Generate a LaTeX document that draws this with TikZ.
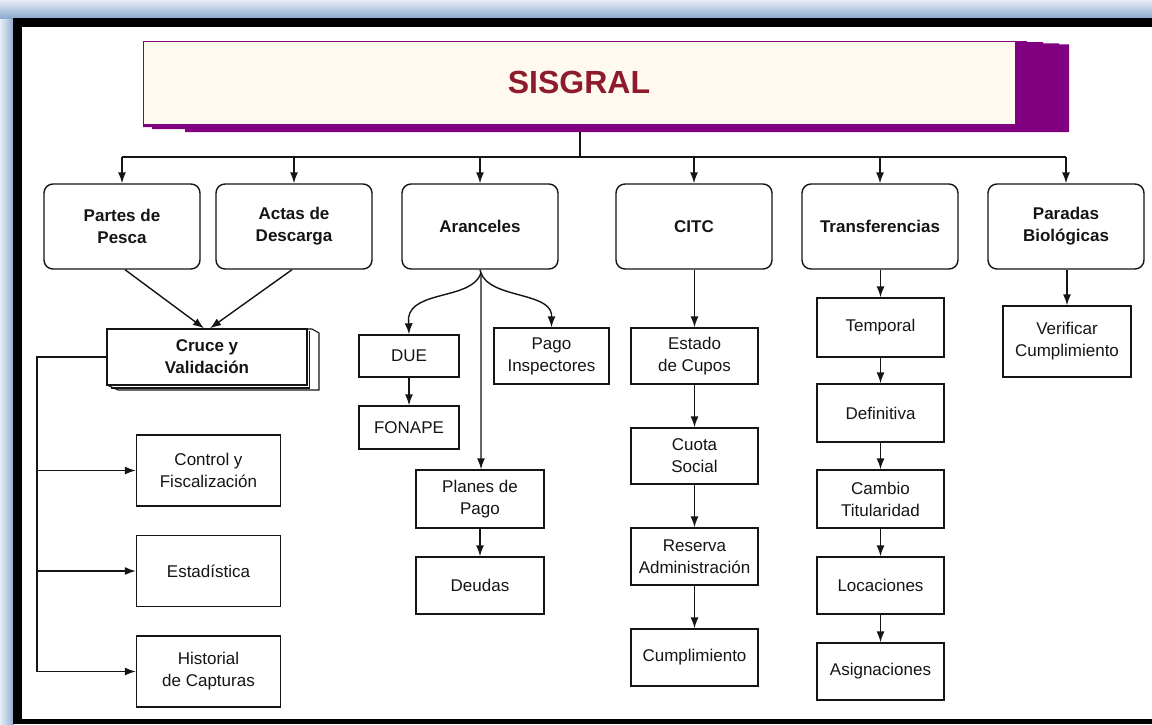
\documentclass[tikz,border=0pt]{standalone}
\usepackage{fontspec}
\setmainfont{Liberation Sans}
\usetikzlibrary{arrows.meta,calc}
\definecolor{purp}{HTML}{800080}
\definecolor{cream}{HTML}{FFF9EF}
\definecolor{titlered}{HTML}{8E1B2B}
\definecolor{frameblue}{HTML}{8DAAD0}
\definecolor{framepale}{HTML}{E8EEF6}
\definecolor{ink}{HTML}{151515}
\begin{document}
\begin{tikzpicture}[x=1pt,y=-1pt,line width=1.4pt,
  topbox/.style={draw=ink, rounded corners=9pt, minimum width=156pt, minimum height=85pt, align=center, inner sep=0pt, font=\fontsize{17}{22}\selectfont\bfseries, text=ink},
  subbox/.style={draw=ink, align=center, inner sep=0pt, font=\fontsize{17}{22}\selectfont, text=ink},
  arr/.style={draw=ink, -{Latex[length=11pt,width=8pt]}},
  conn/.style={draw=ink}]
\useasboundingbox (0,0) rectangle (1152,724);
% frame
\shade[left color=framepale, right color=frameblue] (0,0) rectangle (14,724);
\shade[top color=framepale, bottom color=frameblue] (0,0) rectangle (1152,18);
\fill[black] (13,18) rectangle (1152,724);
\fill[white] (21.5,26.5) rectangle (1152,719);
% title
\fill[purp] (1015,41) -- (1027,41) -- (1027,42) -- (1043,42) -- (1043,43.3) -- (1059,43.3) -- (1059,44.3) -- (1069,44.3) -- (1069,132) -- (185,132) -- (185,129) -- (152,129) -- (152,127) -- (143,127) -- (143,41) -- cycle;
\node[draw=purp, fill=cream, line width=1pt, minimum width=872pt, minimum height=83pt, inner sep=0pt, font=\fontsize{32}{36}\selectfont\bfseries, text=titlered] (title) at (579,82.5) {SISGRAL};
% top row
\node[topbox] (partes) at (122,226.5) {Partes de\\Pesca};
\node[topbox] (actas) at (294,226.5) {Actas de\\Descarga};
\node[topbox] (aranc) at (480,226.5) {Aranceles};
\node[topbox] (citc) at (694,226.5) {CITC};
\node[topbox] (transf) at (880,226.5) {Transferencias};
\node[topbox] (paradas) at (1066,226.5) {Paradas\\Biológicas};
% cruce
\draw[ink, line width=1.1pt] (307,329) -- (312,329) -- (319,333) -- (319,390) -- (118,390) -- (107,385);
\draw[ink, line width=1.1pt] (309.5,331) -- (309.5,388) -- (111,388);
\node[subbox, font=\fontsize{17}{22}\selectfont\bfseries, minimum width=200pt, minimum height=56pt, fill=white] (cruce) at (207,357) {Cruce y\\Validación};
% left column
\node[subbox, minimum width=144pt, minimum height=71pt] (control) at (208.5,470.5) {Control y\\Fiscalización};
\node[subbox, minimum width=144pt, minimum height=71pt] (estad) at (208.5,571) {Estadística};
\node[subbox, minimum width=144pt, minimum height=71pt] (hist) at (208.5,671.5) {Historial\\de Capturas};
% aranceles column
\node[subbox, minimum width=100pt, minimum height=42pt] (due) at (409,356) {DUE};
\node[subbox, minimum width=100pt, minimum height=43pt] (fonape) at (409,427.5) {FONAPE};
\node[subbox, minimum width=115pt, minimum height=56pt] (pago) at (551.5,356) {Pago\\Inspectores};
\node[subbox, minimum width=128pt, minimum height=58pt] (planes) at (480,499) {Planes de\\Pago};
\node[subbox, minimum width=128pt, minimum height=57pt] (deudas) at (480,585.5) {Deudas};
% citc column
\node[subbox, minimum width=127pt, minimum height=56pt] (estado) at (694.5,356) {Estado\\de Cupos};
\node[subbox, minimum width=127pt, minimum height=56pt] (cuota) at (694.5,456) {Cuota\\Social};
\node[subbox, minimum width=127pt, minimum height=57pt] (reserva) at (694.5,556.5) {Reserva\\Administración};
\node[subbox, minimum width=127pt, minimum height=57pt] (cumpl) at (694.5,657.5) {Cumplimiento};
% transferencias column
\node[subbox, minimum width=127pt, minimum height=59pt] (temporal) at (880.5,327.5) {Temporal};
\node[subbox, minimum width=127pt, minimum height=58pt] (defin) at (880.5,413) {Definitiva};
\node[subbox, minimum width=127pt, minimum height=58pt] (cambio) at (880.5,499) {Cambio\\Titularidad};
\node[subbox, minimum width=127pt, minimum height=57pt] (locac) at (880.5,585.5) {Locaciones};
\node[subbox, minimum width=127pt, minimum height=57pt] (asign) at (880.5,671.5) {Asignaciones};
% paradas
\node[subbox, minimum width=128pt, minimum height=71pt] (verif) at (1067,341.5) {Verificar\\Cumplimiento};
% connectors top
\coordinate (stem) at (580,132);
\coordinate (bus) at (580,157);
\draw[conn] (stem) -- (bus);
\draw[conn] (partes.north |- bus) -- (paradas.north |- bus);
\foreach \n in {partes,actas,aranc,citc,transf,paradas}
  \draw[arr] (\n.north |- bus) -- (\n.north);
% to cruce
\draw[arr] ([xshift=3pt]partes.south) -- ([xshift=-3pt]cruce.north);
\draw[arr] ([xshift=-2pt]actas.south) -- ([xshift=3pt]cruce.north);
% left bus
\coordinate (lx) at (37,357);
\draw[arr] (cruce.west) -- (lx) |- (hist.west);
\draw[arr] (lx |- control.west) -- (control.west);
\draw[arr] (lx |- estad.west) -- (estad.west);
% aranceles
\coordinate (aj) at (481,273);
\draw[arr] (aranc.south) -- (aj) -- (aj |- planes.north);
\draw[arr] (aj) .. controls (472,300) and (412,290) .. (408.5,318) -- (due.north);
\draw[arr] (aj) .. controls (490,298) and (548,292) .. (551.5,314) -- (pago.north);
\draw[arr] (due) -- (fonape);
\draw[arr] (planes) -- (deudas);
% citc
\draw[arr] (citc.south -| estado.north) -- (estado.north);
\draw[arr] (estado) -- (cuota);
\draw[arr] (cuota) -- (reserva);
\draw[arr] (reserva) -- (cumpl);
% transferencias
\draw[arr] (transf.south -| temporal.north) -- (temporal.north);
\draw[arr] (temporal) -- (defin);
\draw[arr] (defin) -- (cambio);
\draw[arr] (cambio) -- (locac);
\draw[arr] (locac) -- (asign);
% paradas
\draw[arr] (paradas.south -| verif.north) -- (verif.north);
\end{tikzpicture}
\end{document}
